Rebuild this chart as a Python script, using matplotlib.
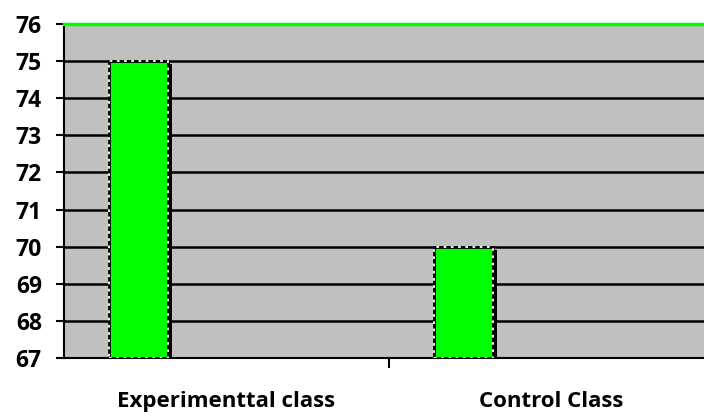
import matplotlib.pyplot as plt
import numpy as np

categories = ['Experimenttal class', 'Control Class']
scores = [75, 70]
yticks = list(range(67, 77))

plt.rcParams['font.family'] = ['Open Sans', 'DejaVu Sans']

fig = plt.figure(figsize=(7.04, 4.17), dpi=100)
fig.patch.set_facecolor('white')
ax = fig.add_axes([64/704, 59/417, 1 - 64/704, 334/417])
ax.set_facecolor('#c0c0c0')

ymin, ymax = 67, 76
ax.set_ylim(ymin, ymax)
ax.set_xlim(0, 640/325)

# horizontal gridlines at every unit
for y in yticks[1:-1]:
    ax.axhline(y, color='black', lw=1.8, zorder=1)

slot = np.arange(len(categories))
left = slot + 0.138
width = 0.183
heights = np.array(scores) - ymin

# drop shadow, then the bar, then a dotted white edge over black
ax.bar(left + 0.012, heights - 0.08, width=width, bottom=ymin, align='edge',
       color='black', zorder=2)
ax.bar(left, heights, width=width, bottom=ymin, align='edge',
       color='#00ff00', edgecolor='black', lw=2, zorder=3)
ax.bar(left, heights, width=width, bottom=ymin, align='edge',
       color='none', edgecolor='white', lw=1.3, linestyle=(0, (1.5, 2.5)), zorder=4)

ax.set_yticks(yticks)
ax.set_yticklabels([str(v) for v in yticks], fontsize=16.5, fontweight='bold')
ax.tick_params(axis='y', length=6, width=1.5, pad=10, direction='out')

# category boundary ticks on x, labels centred in each slot
ax.set_xticks([1])
ax.set_xticklabels([''])
ax.tick_params(axis='x', length=7, width=1.5, direction='out')
for i, name in enumerate(categories):
    ax.text(i + 0.5, -0.13, name, transform=ax.get_xaxis_transform(),
            ha='center', va='center', fontsize=16, fontweight='bold')

ax.spines['right'].set_visible(False)
ax.spines['top'].set_color('#00ff00')
ax.spines['top'].set_linewidth(2.5)
ax.spines['left'].set_linewidth(1.5)
ax.spines['bottom'].set_linewidth(1.5)

fig.savefig('out.png', dpi=100)
